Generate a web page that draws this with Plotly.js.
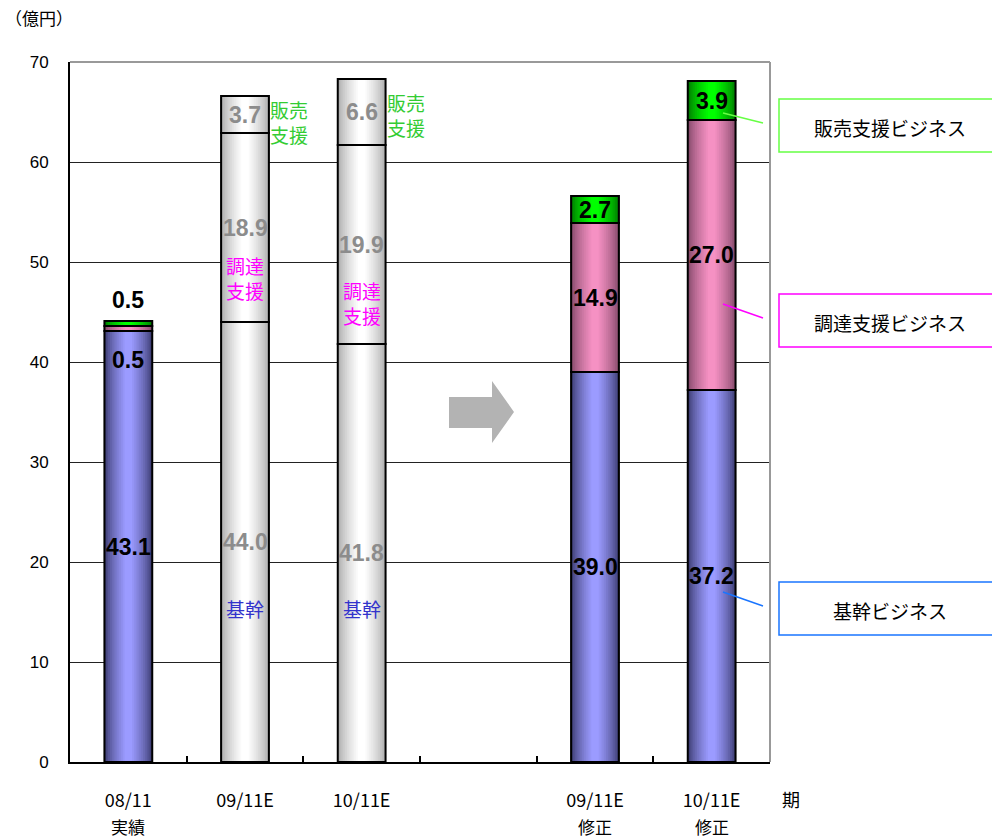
<!DOCTYPE html>
<html><head><meta charset="utf-8">
<script src="https://cdn.plot.ly/plotly-3.0.1.min.js"></script>
<style>html,body{margin:0;padding:0;background:#fff}#c{width:992px;height:839px}</style>
</head><body><div id="c"></div>
<script>
// ---- data ----
const categories = ['08/11<br>実績', '09/11E', '10/11E', ' ', '09/11E<br>修正', '10/11E<br>修正'];
const tickLine1  = ['08/11', '09/11E', '10/11E', '', '09/11E', '10/11E'];
const tickLine2  = ['実績', '', '', '', '修正', '修正'];
const kikan    = [43.1, 44.0, 41.8, null, 39.0, 37.2];   // 基幹ビジネス
const chotatsu = [0.5, 18.9, 19.9, null, 14.9, 27.0];   // 調達支援ビジネス
const hanbai   = [0.5, 3.7, 6.6, null, 2.7, 3.9];       // 販売支援ビジネス
const planBar  = [false, true, true, false, false, false]; // 当初計画（グレー表示）
const seriesNames = ['基幹ビジネス', '調達支援ビジネス', '販売支援ビジネス'];

// ---- styling ----
const L = 70, T = 62, W = 700, H = 700;
const px = x => (x - L) / W, py = y => (T + H - y) / H;
const BW = 0.41;
const pal = {
  kikan:    {edge: [58, 58, 110],  center: [155, 155, 255]},
  chotatsu: {edge: [130, 72, 104], center: [245, 145, 195]},
  hanbai:   {edge: [0, 120, 0],    center: [0, 255, 0]},
  gray:     {edge: [170, 170, 170], center: [255, 255, 255]}
};
function mix(a, b, t) { return 'rgb(' + a.map((v, i) => Math.round(v + (b[i] - v) * t)).join(',') + ')'; }

const series = [
  {key: 'kikan', vals: kikan, name: seriesNames[0]},
  {key: 'chotatsu', vals: chotatsu, name: seriesNames[1]},
  {key: 'hanbai', vals: hanbai, name: seriesNames[2]}
];
const bases = series.map((s, si) => categories.map((c, i) => {
  let b = 0; for (let k = 0; k < si; k++) b += (series[k].vals[i] || 0); return b;
}));

const traces = [];
const N = 12;
series.forEach((s, si) => {
  for (let k = 0; k < N; k++) {
    const tt = Math.pow(k / (N - 1), 0.7);
    traces.push({
      type: 'bar', x: categories, y: s.vals, base: bases[si],
      width: BW * (1 - k / N * 0.92),
      marker: {color: categories.map((c, i) => {
        const p = planBar[i] ? pal.gray : pal[s.key];
        return mix(p.edge, p.center, tt);
      }), line: {width: 0}},
      hoverinfo: 'skip', showlegend: false
    });
  }
  traces.push({
    type: 'bar', x: categories, y: s.vals, base: bases[si], width: BW, name: s.name,
    marker: {color: 'rgba(0,0,0,0)', line: {color: '#000', width: 2}},
    showlegend: false
  });
});

const jp = (size, color) => ({family: 'Noto Sans CJK JP', size: size, color: color || '#000'});
const annotations = [];
// value labels
series.forEach((s, si) => {
  categories.forEach((c, i) => {
    const v = s.vals[i]; if (v == null) return;
    let y = bases[si][i] + v / 2, yshift = 0;
    if (v < 2) {
      y = bases[si][i] + v;
      yshift = si === 2 ? 21 : -34;
    }
    annotations.push({
      x: c, y: y, yshift: yshift, text: v.toFixed(1), showarrow: false,
      font: {family: 'Liberation Sans, Arial', size: 23, weight: 'bold',
             color: planBar[i] ? '#8c8c8c' : '#000'}
    });
  });
});
// side labels on plan bars
[['09/11E', 64.0, 48.4, 15.4], ['10/11E', 64.7, 45.9, 15.4]].forEach(([c, yh, yc, yk]) => {
  annotations.push({x: c, y: yh, text: '販売<br>支援', showarrow: false, xanchor: 'left', xshift: 23, font: jp(19, '#33cc33')});
  annotations.push({x: c, y: yc, text: '調達<br>支援', showarrow: false, font: jp(19, '#ff00ff')});
  annotations.push({x: c, y: yk, text: '基幹', showarrow: false, font: jp(19, '#3333cc')});
});
// x tick second lines
categories.forEach((c, i) => {
  if (!tickLine2[i]) return;
  annotations.push({x: c, xref: 'x', yref: 'paper', y: py(826), yanchor: 'middle', text: tickLine2[i],
    showarrow: false, font: jp(17)});
});
// unit and period labels
annotations.push({xref: 'paper', yref: 'paper', x: px(3), y: py(18), xanchor: 'left', yanchor: 'middle',
  text: '（億円）', showarrow: false, font: jp(17)});
annotations.push({xref: 'paper', yref: 'paper', x: px(791), y: py(799), xanchor: 'center', yanchor: 'middle',
  text: '期', showarrow: false, font: jp(18)});

// legend boxes
const boxes = [
  {name: seriesNames[2], top: 99, col: '#66ff44', from: [723, 113], to: [763, 123]},
  {name: seriesNames[1], top: 294, col: '#ff00ff', from: [723, 304], to: [763, 318]},
  {name: seriesNames[0], top: 582, col: '#1a75ff', from: [723, 592], to: [763, 606]}
];
const shapes = [
  {type: 'line', xref: 'paper', yref: 'paper', x0: 0, x1: 1, y0: 1, y1: 1, line: {color: '#999', width: 2}},
  {type: 'line', xref: 'paper', yref: 'paper', x0: 1, x1: 1, y0: 0, y1: 1, line: {color: '#999', width: 2}}
];
boxes.forEach(b => {
  shapes.push({type: 'rect', xref: 'paper', yref: 'paper', x0: px(779), x1: px(1000), y0: py(b.top), y1: py(b.top + 53),
    line: {color: b.col, width: 1.5}, fillcolor: '#fff'});
  shapes.push({type: 'line', xref: 'paper', yref: 'paper', x0: px(b.from[0]), y0: py(b.from[1]), x1: px(b.to[0]), y1: py(b.to[1]),
    line: {color: b.col, width: 1.5}});
  annotations.push({xref: 'paper', yref: 'paper', x: px(890), y: py(b.top + 28), xanchor: 'center', yanchor: 'middle',
    text: b.name, showarrow: false, font: jp(19)});
});
// block arrow
const arrow = [[449, 397], [492, 397], [492, 381], [514, 412], [492, 443], [492, 428], [449, 428]];
shapes.push({type: 'path', xref: 'paper', yref: 'paper',
  path: 'M' + arrow.map(p => px(p[0]) + ',' + py(p[1])).join(' L') + ' Z',
  fillcolor: '#b3b3b3', line: {width: 0}});

const layout = {
  width: 992, height: 839,
  margin: {l: L, r: 992 - L - W, t: T, b: 839 - T - H},
  paper_bgcolor: '#fff', plot_bgcolor: '#fff',
  barmode: 'overlay', showlegend: false,
  font: {family: 'Noto Sans CJK JP, Liberation Sans', color: '#000'},
  xaxis: {
    type: 'category', categoryorder: 'array', categoryarray: categories,
    range: [-0.5, 5.5], showgrid: false, zeroline: false,
    showline: true, linecolor: '#000', linewidth: 2,
    tickmode: 'array', tickvals: categories, ticktext: tickLine1,
    ticks: 'inside', tickson: 'boundaries', ticklen: 6, tickcolor: '#000', tickwidth: 2,
    ticklabelstandoff: 21,
    tickfont: jp(18)
  },
  yaxis: {
    range: [0, 70], dtick: 10, tick0: 0,
    showgrid: true, gridcolor: '#222', gridwidth: 1, zeroline: false,
    showline: true, linecolor: '#000', linewidth: 2, ticks: '',
    ticklabelstandoff: 16,
    tickfont: {family: 'Liberation Sans, Arial', size: 17, color: '#000'}
  },
  annotations: annotations, shapes: shapes
};
Plotly.newPlot('c', traces, layout, {displayModeBar: false, staticPlot: true});
</script></body></html>
